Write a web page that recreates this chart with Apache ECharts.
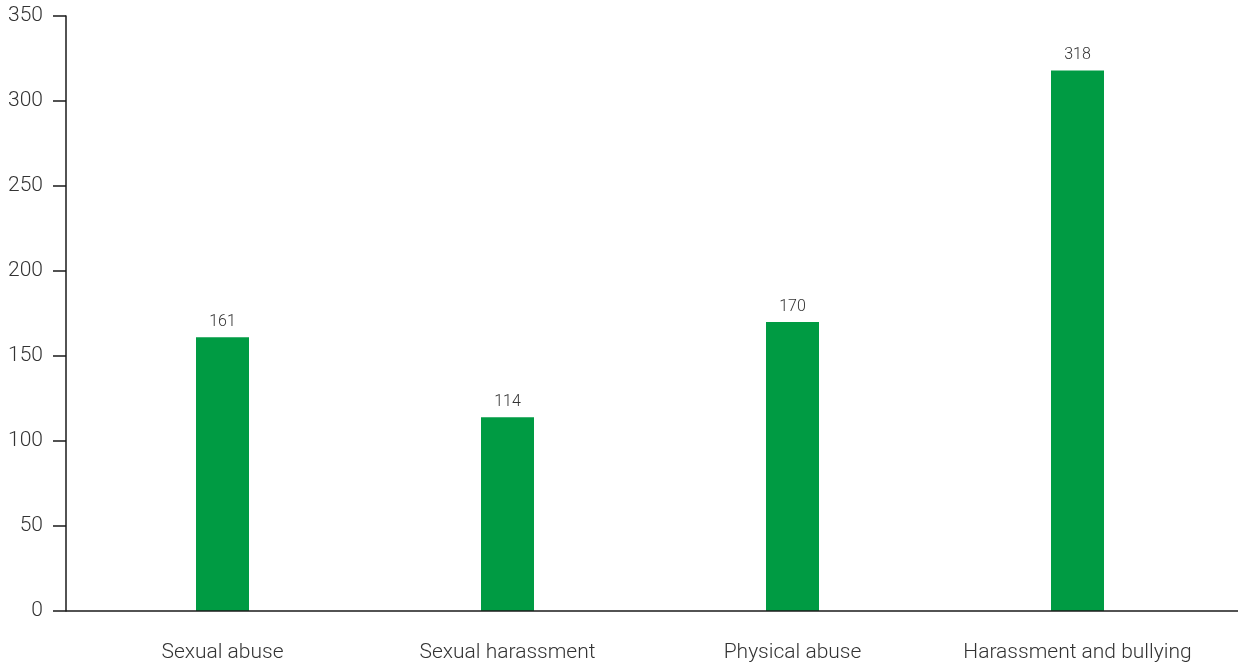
<!DOCTYPE html>
<html><head><meta charset="utf-8">
<script src="https://cdn.jsdelivr.net/npm/echarts@6/dist/echarts.min.js"></script>
<style>html,body{margin:0;padding:0;background:#fff}#c{width:1238px;height:666px}</style>
</head><body><div id="c"></div>
<script>
const categories = ["Sexual abuse", "Sexual harassment", "Physical abuse", "Harassment and bullying"];
const values = [161, 114, 170, 318];
const yTicks = [0, 50, 100, 150, 200, 250, 300, 350];

const chart = echarts.init(document.getElementById('c'));
const font = 'Roboto';
chart.setOption({
  animation: false,
  grid: { left: 80, right: 18, top: 16, bottom: 55 },
  graphic: [{
    type: 'line', z: 10,
    shape: { x1: 66, y1: 611, x2: 1238, y2: 611 },
    style: { stroke: '#1a1a1a', lineWidth: 1.5 }
  }],
  xAxis: {
    type: 'category',
    data: categories,
    axisLine: { show: false },
    axisTick: { show: false },
    axisLabel: { interval: 0, margin: 31, fontFamily: font, fontSize: 21, fontWeight: 300, color: '#333' }
  },
  yAxis: {
    type: 'value',
    min: 0, max: 350, interval: 50,
    offset: 14,
    axisLine: { show: true, lineStyle: { color: '#1a1a1a', width: 1.5 } },
    axisTick: { show: true, length: 13, lineStyle: { color: '#1a1a1a', width: 1.5 } },
    splitLine: { show: false },
    axisLabel: {
      margin: 23, fontFamily: font, fontSize: 21, fontWeight: 300, color: '#333',
      formatter: v => yTicks.includes(v) ? String(v) : ''
    }
  },
  series: [{
    type: 'bar',
    data: values,
    barWidth: 53,
    itemStyle: { color: '#009B43' },
    label: { show: true, position: 'top', distance: 7, fontFamily: font, fontSize: 16, fontWeight: 300, color: '#333' }
  }]
});
</script></body></html>
